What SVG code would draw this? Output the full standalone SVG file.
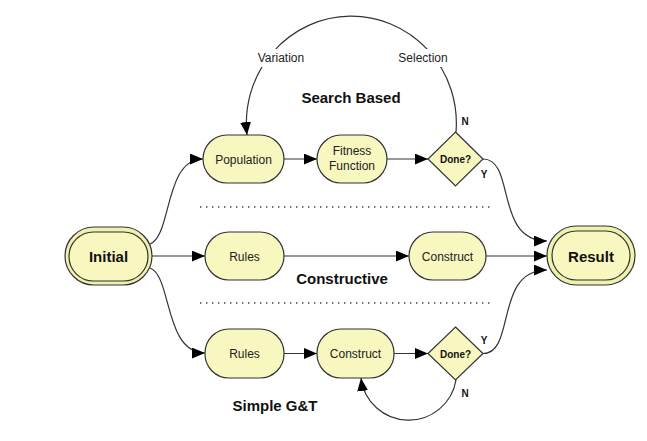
<svg xmlns="http://www.w3.org/2000/svg" width="647" height="441" viewBox="0 0 647 441">
<defs>
<marker id="ah" viewBox="0 0 12 10" refX="12" refY="5" markerWidth="13" markerHeight="11" markerUnits="userSpaceOnUse" orient="auto">
<path d="M0,0 L12,5 L0,10 Z" fill="#000"/>
</marker>
<style>
.n{fill:#f7f7bf;stroke:#333;stroke-width:1.2}
.t{font-family:"Liberation Sans",Arial,sans-serif;font-size:12px;fill:#222;text-anchor:middle}
.b{font-family:"Liberation Sans",Arial,sans-serif;font-weight:bold;fill:#111;text-anchor:middle}
.c{fill:none;stroke:#333;stroke-width:1.2}
.e{fill:none;stroke:#333;stroke-width:1.2;marker-end:url(#ah)}
.d{stroke:#444;stroke-width:1.4;stroke-dasharray:1.4 4.6}
</style>
</defs>
<rect width="647" height="441" fill="#fff"/>
<g id="connectors">
<path class="e" d="M152,256 L205,256"/>
<path class="e" d="M150,244 C172,236 164,159 203,159"/>
<path class="e" d="M150,268 C172,276 164,353 205,353"/>
<path class="e" d="M284,159 L317,159"/>
<path class="e" d="M387,159 L428,159"/>
<path class="e" d="M284,256 L409,256"/>
<path class="e" d="M486,256 L547,256"/>
<path class="e" d="M284,353.5 L317,353.5"/>
<path class="e" d="M394,353.5 L428,353.5"/>
<path class="e" d="M483,159 C516,159 494,241 547,241"/>
<path class="e" d="M483,353.5 C516,353.5 494,270 547,270"/>
<path class="e" d="M456,132 A105,107 0 1 0 247,135"/>
<path class="e" d="M456,380 A48,48 0 0 1 361,378"/>
<rect x="249" y="49" width="64" height="18" fill="#fff"/>
<rect x="391" y="49" width="64" height="18" fill="#fff"/>
<text class="t" x="281" y="62" font-size="12.5">Variation</text>
<text class="t" x="423" y="62" font-size="12.5">Selection</text>
<text class="b" x="465" y="125" font-size="10">N</text>
<text class="b" x="484" y="178" font-size="10">Y</text>
<text class="b" x="484" y="344" font-size="10">Y</text>
<text class="b" x="465" y="397" font-size="10">N</text>
</g>
<line class="d" x1="200" y1="207" x2="493" y2="207"/>
<line class="d" x1="200" y1="303" x2="493" y2="303"/>
<text class="b" x="351" y="103" font-size="15">Search Based</text>
<text class="b" x="342" y="284" font-size="15">Constructive</text>
<text class="b" x="275" y="411" font-size="15">Simple G&amp;T</text>
<g id="initial">
<rect x="65" y="227" width="87" height="58" rx="29" fill="#f1f1ae" stroke="#333" stroke-width="1.2"/>
<rect x="69" y="232" width="79" height="49" rx="24.5" class="n"/>
<text class="b" x="108.5" y="261.5" font-size="15">Initial</text>
</g>
<g id="result">
<rect x="547" y="226" width="88" height="59" rx="29.5" fill="#f1f1ae" stroke="#333" stroke-width="1.2"/>
<rect x="552" y="231" width="78" height="49" rx="24.5" class="n"/>
<text class="b" x="591" y="261.5" font-size="15">Result</text>
</g>
<g id="population">
<rect x="203" y="135" width="81" height="48" rx="24" class="n"/>
<text class="t" x="243.5" y="163.5">Population</text>
</g>
<g id="fitness">
<rect x="317" y="135" width="70" height="48" rx="24" class="n"/>
<text class="t" x="352" y="155" font-size="11">Fitness</text>
<text class="t" x="352" y="170" font-size="11">Function</text>
</g>
<g id="done1">
<polygon points="455.5,132 483,159 455.5,186 428,159" class="n"/>
<text class="b" x="455.5" y="163" font-size="10">Done?</text>
</g>
<g id="rules1">
<rect x="205" y="232" width="79" height="48" rx="24" class="n"/>
<text class="t" x="244.5" y="260.5">Rules</text>
</g>
<g id="construct1">
<rect x="409" y="232" width="77" height="48" rx="24" class="n"/>
<text class="t" x="447.5" y="260.5">Construct</text>
</g>
<g id="rules2">
<rect x="205" y="329" width="79" height="49" rx="24" class="n"/>
<text class="t" x="244.5" y="358">Rules</text>
</g>
<g id="construct2">
<rect x="317" y="329" width="77" height="49" rx="24" class="n"/>
<text class="t" x="355.5" y="358">Construct</text>
</g>
<g id="done2">
<polygon points="455.5,327 483,353.5 455.5,380 428,353.5" class="n"/>
<text class="b" x="455.5" y="357.5" font-size="10">Done?</text>
</g>
</svg>
